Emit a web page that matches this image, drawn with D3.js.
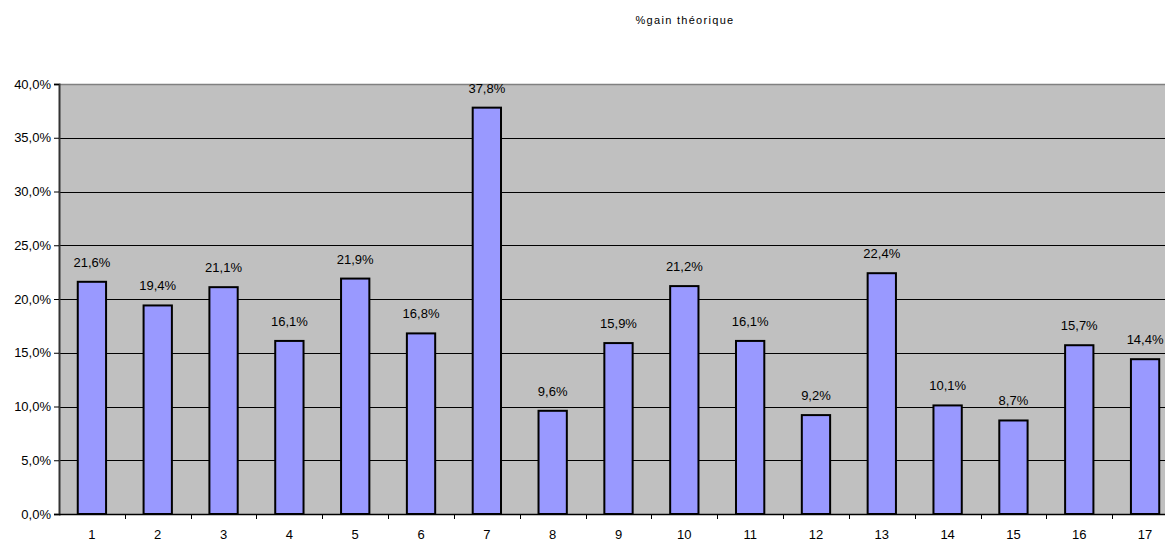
<!DOCTYPE html>
<html>
<head>
<meta charset="utf-8">
<script src="https://cdn.jsdelivr.net/npm/d3@7"></script>
<style>
  body { margin: 0; background: #fff; }
  svg { display: block; font-family: "Liberation Sans", Arial, sans-serif; }
</style>
</head>
<body>
<div id="chart"></div>
<script>
    'use strict';

    var title = '%gain théorique';
    var categories = ['1', '2', '3', '4', '5', '6', '7', '8', '9', '10', '11', '12', '13', '14', '15', '16', '17'];
    var gains = [21.6, 19.4, 21.1, 16.1, 21.9, 16.8, 37.8, 9.6, 15.9, 21.2, 16.1, 9.2, 22.4, 10.1, 8.7, 15.7, 14.4];
    var yTicks = [0, 5, 10, 15, 20, 25, 30, 35, 40];

    var width = 1165, height = 541;
    var plot = { left: 59, right: 1178, top: 84, bottom: 514 };

    var fmt = function(v) { return v.toFixed(1).replace('.', ',') + '%'; };

    var svg = d3.select('#chart')
        .append('svg')
        .attr('width', width)
        .attr('height', height);

    var x = d3.scaleBand()
        .domain(categories)
        .range([plot.left, plot.right])
        .paddingInner(0.57)
        .paddingOuter(0.285);

    var band = d3.scaleBand()
        .domain(categories)
        .range([plot.left, plot.right]);

    var y = d3.scaleLinear()
        .domain([0, 40])
        .range([plot.bottom, plot.top]);

    svg.append('text')
        .attr('x', 685)
        .attr('y', 24)
        .attr('text-anchor', 'middle')
        .attr('font-size', 11)
        .attr('letter-spacing', 1.3)
        .attr('fill', '#000')
        .text(title);

    svg.append('rect')
        .attr('x', plot.left)
        .attr('y', plot.top)
        .attr('width', plot.right - plot.left)
        .attr('height', plot.bottom - plot.top)
        .attr('fill', '#c0c0c0');

    // horizontal gridlines
    svg.append('g')
        .selectAll('line')
        .data(yTicks.slice(1, -1))
        .join('line')
        .attr('x1', plot.left)
        .attr('x2', plot.right)
        .attr('y1', function(d) { return Math.round(y(d)) + 0.5; })
        .attr('y2', function(d) { return Math.round(y(d)) + 0.5; })
        .attr('stroke', '#000')
        .attr('stroke-width', 1);

    // top border
    svg.append('line')
        .attr('x1', plot.left)
        .attr('x2', plot.right)
        .attr('y1', plot.top + 0.5)
        .attr('y2', plot.top + 0.5)
        .attr('stroke', '#808080')
        .attr('stroke-width', 1.5);

    // y axis
    var yAxis = svg.append('g')
        .attr('transform', 'translate(' + plot.left + ',0)')
        .call(d3.axisLeft(y).tickValues(yTicks).tickSize(5).tickPadding(3).tickFormat(function(d) { return fmt(d); }));
    yAxis.select('.domain').attr('stroke', '#333').attr('stroke-width', 2);
    yAxis.selectAll('.tick line').attr('stroke', '#000');
    yAxis.selectAll('.tick text').attr('font-size', 13).attr('fill', '#000').attr('font-family', '"Liberation Sans", Arial, sans-serif');

    // bars
    svg.append('g')
        .selectAll('rect')
        .data(gains)
        .join('rect')
        .attr('x', function(d, i) { return x(categories[i]); })
        .attr('y', function(d) { return y(d); })
        .attr('width', x.bandwidth())
        .attr('height', function(d) { return plot.bottom - y(d); })
        .attr('fill', '#9999ff')
        .attr('stroke', '#000')
        .attr('stroke-width', 2);

    // value labels
    svg.append('g')
        .selectAll('text')
        .data(gains)
        .join('text')
        .attr('x', function(d, i) { return x(categories[i]) + x.bandwidth() / 2; })
        .attr('y', function(d) { return y(d) - 15; })
        .attr('text-anchor', 'middle')
        .attr('font-size', 13)
        .attr('fill', '#000')
        .text(function(d) { return fmt(d); });

    // x axis
    var xAxis = svg.append('g')
        .attr('transform', 'translate(0,' + plot.bottom + ')');
    xAxis.append('line')
        .attr('x1', plot.left)
        .attr('x2', plot.right)
        .attr('y1', 0.5)
        .attr('y2', 0.5)
        .attr('stroke', '#000')
        .attr('stroke-width', 1.5);
    xAxis.selectAll('line.tick')
        .data(categories)
        .join('line')
        .attr('class', 'tick')
        .attr('x1', function(d) { return Math.round(band(d) + band.bandwidth()) + 0.5; })
        .attr('x2', function(d) { return Math.round(band(d) + band.bandwidth()) + 0.5; })
        .attr('y1', 0)
        .attr('y2', 5)
        .attr('stroke', '#000');
    xAxis.selectAll('text')
        .data(categories)
        .join('text')
        .attr('x', function(d) { return band(d) + band.bandwidth() / 2; })
        .attr('y', 25)
        .attr('text-anchor', 'middle')
        .attr('font-size', 13)
        .attr('fill', '#000')
        .text(function(d) { return d; });
</script>
</body>
</html>
